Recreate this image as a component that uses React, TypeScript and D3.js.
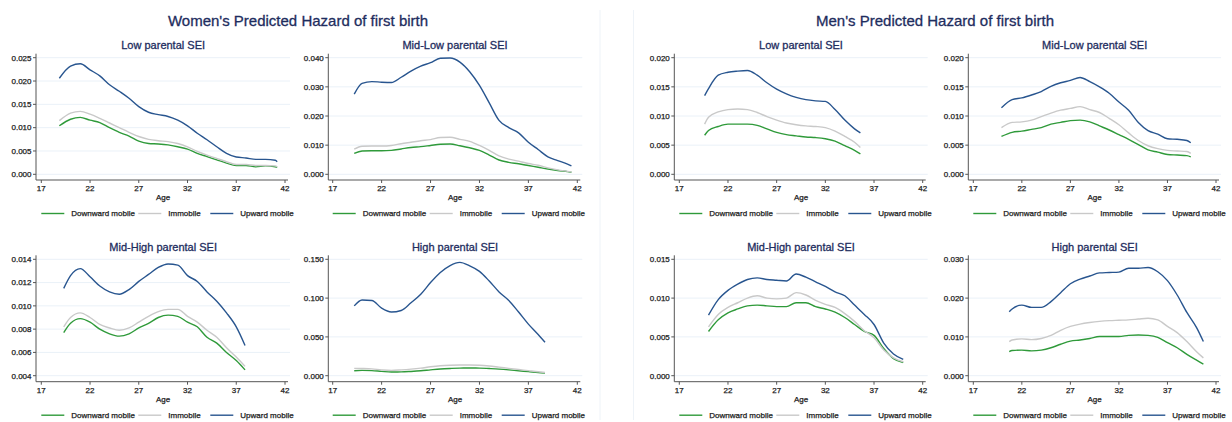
import React from "react";
import * as d3 from "d3";

// ---- Data: predicted hazard of first birth by age ----
const seriesNames = ["Downward mobile", "Immobile", "Upward mobile"];
const seriesColors = ["#2f9a3a", "#c9c9c9", "#28558f"];

// Women, low parental SEI
const wLowAges = [18.85, 20, 21, 22, 23, 24, 25, 26, 27, 28, 29, 30, 31, 32, 33, 34, 35, 36, 37, 38, 39, 40, 41, 41.2];
const wLowDown = [0.0104, 0.0118, 0.0122, 0.0116, 0.0111, 0.01, 0.009, 0.0082, 0.0071, 0.0066, 0.0065, 0.0063, 0.0059, 0.0054, 0.0045, 0.0038, 0.0031, 0.0024, 0.0019, 0.0019, 0.0016, 0.0018, 0.0016, 0.0015];
const wLowImm = [0.0115, 0.0131, 0.0135, 0.0129, 0.012, 0.011, 0.01, 0.009, 0.0081, 0.0075, 0.0072, 0.007, 0.0066, 0.0059, 0.0049, 0.0041, 0.0034, 0.0027, 0.0021, 0.0021, 0.0019, 0.0019, 0.0018, 0.0016];
const wLowUp = [0.0206, 0.0232, 0.0237, 0.0224, 0.0211, 0.0192, 0.0178, 0.0163, 0.0145, 0.0133, 0.0128, 0.0124, 0.0116, 0.0104, 0.0088, 0.0074, 0.0059, 0.0045, 0.0037, 0.0035, 0.0032, 0.0032, 0.003, 0.0027];

// Women, mid-low parental SEI
const wMidLowAges = [19.2, 20, 21, 22, 23, 24, 25, 26, 27, 28, 29, 30, 31, 32, 33, 34, 35, 36, 37, 38, 39, 40, 41, 41.4];
const wMidLowDown = [0.0072, 0.008, 0.0081, 0.0081, 0.0082, 0.0087, 0.0092, 0.0095, 0.0099, 0.0103, 0.0104, 0.0098, 0.0091, 0.0082, 0.0066, 0.0049, 0.0041, 0.0036, 0.003, 0.0024, 0.0018, 0.0013, 0.0009, 0.0007];
const wMidLowImm = [0.0086, 0.0096, 0.0097, 0.0097, 0.0099, 0.0105, 0.011, 0.0115, 0.0119, 0.0126, 0.0127, 0.012, 0.0113, 0.0099, 0.0082, 0.0063, 0.0052, 0.0045, 0.0037, 0.0031, 0.0022, 0.0015, 0.001, 0.0008];
const wMidLowUp = [0.0275, 0.0312, 0.0318, 0.0316, 0.0315, 0.0333, 0.0354, 0.0371, 0.0383, 0.0398, 0.0399, 0.0385, 0.0352, 0.0305, 0.0245, 0.0185, 0.016, 0.0142, 0.011, 0.0085, 0.006, 0.0047, 0.0035, 0.0029];

// Women, mid-high parental SEI
const wMidHighAges = [19.3, 20, 21, 22, 23, 24, 25, 26, 27, 28, 29, 30, 31, 32, 33, 34, 35, 36, 37, 37.9];
const wMidHighDown = [0.0077, 0.0085, 0.0089, 0.0086, 0.008, 0.0076, 0.0074, 0.0076, 0.0081, 0.0085, 0.009, 0.0092, 0.0091, 0.0086, 0.0082, 0.0073, 0.0068, 0.006, 0.0053, 0.0045];
const wMidHighImm = [0.0082, 0.009, 0.0094, 0.009, 0.0084, 0.0081, 0.0079, 0.0081, 0.0086, 0.0091, 0.0095, 0.0097, 0.0097, 0.0091, 0.0086, 0.0079, 0.0073, 0.0064, 0.0056, 0.0048];
const wMidHighUp = [0.0115, 0.0126, 0.0132, 0.0125, 0.0117, 0.0112, 0.011, 0.0114, 0.0121, 0.0127, 0.0133, 0.0136, 0.0135, 0.0126, 0.0121, 0.0112, 0.0104, 0.0094, 0.0082, 0.0066];

// Women, high parental SEI
const wHighAges = [19.2, 20, 21, 22, 23, 24, 25, 26, 27, 28, 29, 30, 31, 32, 33, 34, 35, 36, 37, 38, 38.7];
const wHighDown = [0.0064, 0.0068, 0.0065, 0.0056, 0.0048, 0.0049, 0.0055, 0.0063, 0.0075, 0.0086, 0.0093, 0.0098, 0.0099, 0.0098, 0.0092, 0.0085, 0.0075, 0.0063, 0.0052, 0.004, 0.0034];
const wHighImm = [0.0095, 0.0093, 0.0088, 0.0075, 0.0068, 0.0075, 0.0085, 0.0098, 0.0115, 0.0128, 0.0135, 0.0138, 0.0138, 0.0135, 0.0125, 0.011, 0.0095, 0.008, 0.0065, 0.005, 0.0042];
const wHighUp = [0.09, 0.0975, 0.097, 0.087, 0.082, 0.084, 0.094, 0.105, 0.12, 0.133, 0.142, 0.146, 0.1415, 0.1345, 0.122, 0.108, 0.097, 0.082, 0.0665, 0.053, 0.043];

// Men, low parental SEI
const mLowAges = [19.6, 20, 21, 22, 23, 24, 25, 26, 27, 28, 29, 30, 31, 32, 33, 34, 35, 35.6];
const mLowDown = [0.0067, 0.0075, 0.0082, 0.0086, 0.0086, 0.0086, 0.0084, 0.0078, 0.0072, 0.0068, 0.0066, 0.0064, 0.0063, 0.0061, 0.0057, 0.0049, 0.0041, 0.0035];
const mLowImm = [0.0086, 0.0098, 0.0107, 0.0111, 0.0112, 0.0111, 0.0106, 0.0099, 0.0093, 0.0088, 0.0085, 0.0083, 0.0082, 0.008, 0.0074, 0.0065, 0.0055, 0.0046];
const mLowUp = [0.0135, 0.0147, 0.017, 0.0175, 0.0177, 0.0178, 0.017, 0.0157, 0.0146, 0.0138, 0.0132, 0.0128, 0.0126, 0.0125, 0.0111, 0.0093, 0.0078, 0.0071];

// Men, mid-low parental SEI
const mMidLowAges = [19.9, 21, 22, 23, 24, 25, 26, 27, 28, 29, 30, 31, 32, 33, 34, 35, 36, 37, 38, 39, 39.4];
const mMidLowDown = [0.0065, 0.0072, 0.0074, 0.0077, 0.008, 0.0086, 0.0089, 0.0092, 0.0093, 0.009, 0.0083, 0.0076, 0.0068, 0.006, 0.0051, 0.0042, 0.0038, 0.0034, 0.0033, 0.0032, 0.003];
const mMidLowImm = [0.008, 0.0089, 0.009, 0.0093, 0.0099, 0.0105, 0.011, 0.0113, 0.0116, 0.0111, 0.0106, 0.0096, 0.0085, 0.0071, 0.0058, 0.0049, 0.0044, 0.0041, 0.004, 0.0039, 0.0036];
const mMidLowUp = [0.0114, 0.0128, 0.0131, 0.0136, 0.0142, 0.0151, 0.0157, 0.0161, 0.0166, 0.0159, 0.015, 0.0139, 0.0124, 0.011, 0.0089, 0.0075, 0.0069, 0.0061, 0.006, 0.0058, 0.0054];

// Men, mid-high parental SEI
const mMidHighAges = [20, 21, 22, 23, 24, 25, 26, 27, 28, 29, 30, 31, 32, 33, 34, 35, 36, 37, 38, 39, 40];
const mMidHighDown = [0.0057, 0.0072, 0.0081, 0.0086, 0.009, 0.0091, 0.009, 0.0089, 0.0089, 0.0094, 0.0094, 0.0089, 0.0086, 0.0082, 0.0075, 0.0066, 0.0057, 0.0052, 0.0035, 0.0022, 0.0017];
const mMidHighImm = [0.0063, 0.0079, 0.0088, 0.0094, 0.01, 0.0103, 0.01, 0.0099, 0.01, 0.0107, 0.0104, 0.0097, 0.0092, 0.0088, 0.008, 0.007, 0.0058, 0.0049, 0.0033, 0.0023, 0.0018];
const mMidHighUp = [0.0078, 0.0098, 0.011, 0.0118, 0.0124, 0.0126, 0.0124, 0.0123, 0.0122, 0.0131, 0.0127, 0.0121, 0.0115, 0.0108, 0.0103, 0.0091, 0.0079, 0.0066, 0.0042, 0.0028, 0.0021];

// Men, high parental SEI
const mHighAges = [20.7, 21, 22, 23, 24, 25, 26, 27, 28, 29, 30, 31, 32, 33, 34, 35, 36, 37, 38, 39, 40, 40.7];
const mHighDown = [0.0062, 0.0065, 0.0066, 0.0064, 0.0066, 0.0072, 0.0081, 0.0089, 0.0092, 0.0096, 0.0101, 0.0101, 0.0101, 0.0104, 0.0105, 0.0104, 0.0099, 0.0085, 0.0072, 0.0055, 0.004, 0.003];
const mHighImm = [0.0088, 0.0092, 0.0095, 0.0093, 0.0096, 0.0104, 0.0117, 0.0127, 0.0133, 0.0137, 0.014, 0.0142, 0.0143, 0.0144, 0.0146, 0.0148, 0.0144, 0.0127, 0.0111, 0.0088, 0.0062, 0.0046];
const mHighUp = [0.0165, 0.0172, 0.0182, 0.0176, 0.0176, 0.0191, 0.0214, 0.0237, 0.0249, 0.0257, 0.0265, 0.0266, 0.0267, 0.0277, 0.0277, 0.0279, 0.0268, 0.0245, 0.0208, 0.0163, 0.0124, 0.0088];

// Axis ticks
const ageTicks = [17, 22, 27, 32, 37, 42];
const ticksLow025 = [0, 0.005, 0.01, 0.015, 0.02, 0.025];
const ticks040 = [0, 0.01, 0.02, 0.03, 0.04];
const ticks004to014 = [0.004, 0.006, 0.008, 0.01, 0.012, 0.014];
const ticks150 = [0, 0.05, 0.1, 0.15];
const ticks020 = [0, 0.005, 0.01, 0.015, 0.02];
const ticks015 = [0, 0.005, 0.01, 0.015];
const ticks030 = [0, 0.01, 0.02, 0.03];

const groupTitles = ["Women's Predicted Hazard of first birth", "Men's Predicted Hazard of first birth"];

type Panel = {
  title: string;
  col: number;
  row: number;
  ages: number[];
  series: number[][];
  yTicks: number[];
};

const panels: Panel[] = [
  { title: "Low parental SEI", col: 0, row: 0, ages: wLowAges, series: [wLowDown, wLowImm, wLowUp], yTicks: ticksLow025 },
  { title: "Mid-Low parental SEI", col: 1, row: 0, ages: wMidLowAges, series: [wMidLowDown, wMidLowImm, wMidLowUp], yTicks: ticks040 },
  { title: "Mid-High parental SEI", col: 0, row: 1, ages: wMidHighAges, series: [wMidHighDown, wMidHighImm, wMidHighUp], yTicks: ticks004to014 },
  { title: "High parental SEI", col: 1, row: 1, ages: wHighAges, series: [wHighDown, wHighImm, wHighUp], yTicks: ticks150 },
  { title: "Low parental SEI", col: 2, row: 0, ages: mLowAges, series: [mLowDown, mLowImm, mLowUp], yTicks: ticks020 },
  { title: "Mid-Low parental SEI", col: 3, row: 0, ages: mMidLowAges, series: [mMidLowDown, mMidLowImm, mMidLowUp], yTicks: ticks020 },
  { title: "Mid-High parental SEI", col: 2, row: 1, ages: mMidHighAges, series: [mMidHighDown, mMidHighImm, mMidHighUp], yTicks: ticks015 },
  { title: "High parental SEI", col: 3, row: 1, ages: mHighAges, series: [mHighDown, mHighImm, mHighUp], yTicks: ticks030 },
];

// Layout of the 4 columns / 2 rows of small multiples
const colAxisX = [36, 328.3, 674.3, 968.3];
const colX0 = [41.3, 332.7, 679.3, 973.3];
const colX1 = [285, 577.3, 922.7, 1216];
const rowTop = [57.7, 259.3];
const rowBottom = [174.3, 375.7];
const rowAxisY = [180, 381.7];

const W = 1232;
const H = 422;
const FONT = "'Liberation Sans', Arial, Helvetica, sans-serif";
const TITLE_COLOR = "#1e2d5e";
const TEXT_COLOR = "#1a1a1a";
const SMALL = 8;
const fmt = d3.format(".3f");

const smallText = {
  fontSize: SMALL,
  fill: TEXT_COLOR,
  fontFamily: FONT,
  stroke: TEXT_COLOR,
  strokeWidth: 0.25,
};

function PanelView({ p }: { p: Panel }) {
  const ax = colAxisX[p.col];
  const axisY = rowAxisY[p.row];
  const x = d3.scaleLinear().domain([17, 42]).range([colX0[p.col], colX1[p.col]]);
  const y = d3
    .scaleLinear()
    .domain([p.yTicks[0], p.yTicks[p.yTicks.length - 1]])
    .range([rowBottom[p.row], rowTop[p.row]]);
  const line = d3
    .line<number>()
    .x((_, i) => x(p.ages[i]))
    .y((v) => y(v))
    .curve(d3.curveMonotoneX);
  const right = x(42) + 5;
  const cx = (x(17) + x(42)) / 2;
  const legendOffsets = [0, 97, 169];
  return (
    <g>
      <text
        x={cx}
        y={rowTop[p.row] - 8.5}
        textAnchor="middle"
        fontSize={11}
        fill={TITLE_COLOR}
        stroke={TITLE_COLOR}
        strokeWidth={0.3}
        fontFamily={FONT}
      >
        {p.title}
      </text>
      {p.yTicks.map((t) => (
        <line key={"g" + t} x1={ax} x2={right} y1={y(t)} y2={y(t)} stroke="#eaf1f8" strokeWidth={1} />
      ))}
      {p.series.map((vals, i) => (
        <path key={"s" + i} d={line(vals) || ""} fill="none" stroke={seriesColors[i]} strokeWidth={1.4} />
      ))}
      <line x1={ax} x2={ax} y1={rowTop[p.row] - 4} y2={axisY} stroke="#555" strokeWidth={1} />
      <line x1={ax} x2={x(42) + 3} y1={axisY} y2={axisY} stroke="#555" strokeWidth={1} />
      {p.yTicks.map((t) => (
        <g key={"yt" + t}>
          <line x1={ax - 3} x2={ax} y1={y(t)} y2={y(t)} stroke="#555" strokeWidth={1} />
          <text x={ax - 4.5} y={y(t) + 2.8} textAnchor="end" {...smallText}>
            {fmt(t)}
          </text>
        </g>
      ))}
      {ageTicks.map((t) => (
        <g key={"xt" + t}>
          <line x1={x(t)} x2={x(t)} y1={axisY} y2={axisY + 3} stroke="#555" strokeWidth={1} />
          <text x={x(t)} y={axisY + 11} textAnchor="middle" {...smallText}>
            {t}
          </text>
        </g>
      ))}
      <text x={cx} y={axisY + 20} textAnchor="middle" {...smallText}>
        Age
      </text>
      {seriesNames.map((name, i) => {
        const lx = x(17) + legendOffsets[i];
        const ly = axisY + 33.5;
        return (
          <g key={"lg" + i}>
            <line x1={lx} x2={lx + 23} y1={ly} y2={ly} stroke={seriesColors[i]} strokeWidth={1.4} />
            <text x={lx + 30} y={ly + 2.8} {...smallText}>
              {name}
            </text>
          </g>
        );
      })}
    </g>
  );
}

export default function App() {
  return (
    <svg
      width={W}
      height={H}
      style={{ position: "absolute", left: 0, top: 0, background: "#fff" }}
    >
      <rect x={0} y={0} width={W} height={H} fill="#fff" />
      <line x1={600} x2={600} y1={10} y2={420} stroke="#eef3f8" strokeWidth={1} />
      <line x1={633.5} x2={633.5} y1={10} y2={420} stroke="#eef3f8" strokeWidth={1} />
      <text x={298} y={26} textAnchor="middle" fontSize={15} fill={TITLE_COLOR} stroke={TITLE_COLOR} strokeWidth={0.3} fontFamily={FONT}>
        {groupTitles[0]}
      </text>
      <text x={935} y={26} textAnchor="middle" fontSize={15} fill={TITLE_COLOR} stroke={TITLE_COLOR} strokeWidth={0.3} fontFamily={FONT}>
        {groupTitles[1]}
      </text>
      {panels.map((p, i) => (
        <PanelView key={i} p={p} />
      ))}
    </svg>
  );
}
